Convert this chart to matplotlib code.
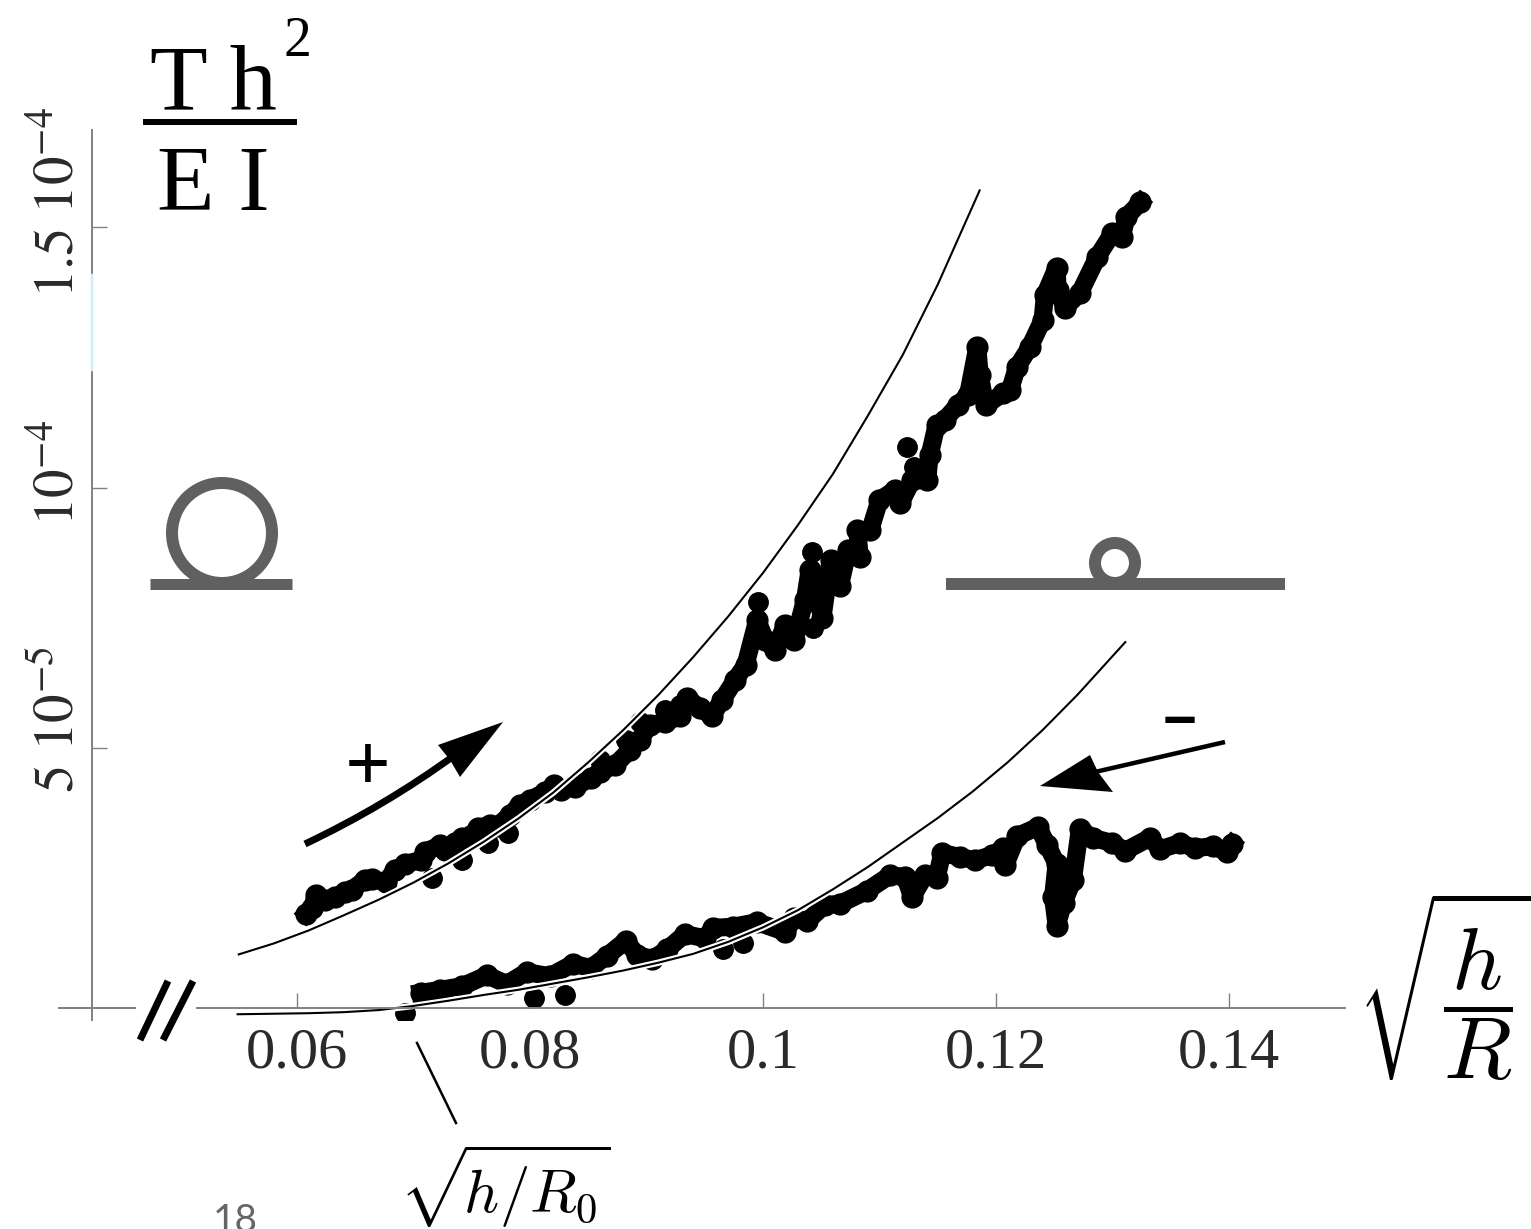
import matplotlib
matplotlib.use("Agg")
import matplotlib.pyplot as plt
import matplotlib.patheffects as pe
from matplotlib.patches import Circle, PathPatch, Polygon
from matplotlib.path import Path

# y values are in units of 1e-5
up_x = [.0608, .0613, .0616, .0624, .0633, .0641, .0647, .0658, .0664, .0676, .0684, .0693, .0706, .0710,
        .0723, .0727, .0736, .0742, .0750, .0755, .0766, .0772, .0783, .0791, .0800, .0813, .0821, .0827,
        .0839, .0852, .0860, .0873, .0886, .0894, .0903, .0916, .0929, .0935, .0946, .0956, .0965, .0976,
        .0985, .0995, .1002, .1010, .1019, .1027, .1036, .1040, .1051, .1058, .1066, .1073, .1083, .1081,
        .1092, .1100, .1113, .1118, .1128, .1141, .1143, .1149, .1156, .1167, .1176, .1184, .1186, .1191,
        .1206, .1212, .1218, .1229, .1240, .1242, .1252, .1253, .1259, .1272, .1287, .1300, .1308, .1312, .1324]
up_y = [1.81, 1.92, 2.17, 2.07, 2.13, 2.23, 2.27, 2.46, 2.48, 2.42, 2.65, 2.77, 2.84, 3.00,
        3.13, 3.04, 3.17, 3.27, 3.32, 3.46, 3.52, 3.50, 3.71, 3.90, 4.00, 4.15, 4.28, 4.19,
        4.25, 4.42, 4.53, 4.67, 4.96, 5.15, 5.44, 5.49, 5.61, 5.96, 5.76, 5.61, 5.92, 6.30,
        6.59, 7.45, 7.07, 6.88, 7.36, 7.07, 7.84, 8.41, 7.49, 8.61, 8.11, 8.80, 8.66, 9.18,
        9.18, 9.76, 9.95, 9.70, 10.14, 10.14, 10.62, 11.20, 11.30, 11.58, 11.78, 12.70, 12.16, 11.58,
        11.81, 11.87, 12.31, 12.70, 13.22, 13.70, 14.22, 13.79, 13.45, 13.74, 14.43, 14.89, 14.81, 15.20, 15.48]
up_out_x = [.0996, .1124, .1042, .0716, .0742, .0764, .0781, .0860, .0882, .0894, .0916, .0929, .1043, .1050, .1118, .1130]
up_out_y = [7.80, 10.78, 8.76, 2.50, 2.84, 3.17, 3.36, 4.76, 5.15, 5.49, 5.72, 5.82, 7.30, 8.00, 9.90, 10.40]

low_x = [.0706, .0723, .0742, .0763, .0780, .0797, .0817, .0837, .0852, .0866, .0882, .0892, .0905, .0918,
         .0933, .0950, .0957, .0974, .0995, .1019, .1027, .1038, .1053, .1066, .1089, .1109, .1122, .1128,
         .1139, .1149, .1154, .1169, .1182, .1197, .1206, .1208, .1218, .1236, .1244, .1252, .1249, .1252,
         .1258, .1266, .1272, .1283, .1300, .1311, .1332, .1341, .1358, .1371, .1386, .1398, .1403]
low_y = [0.29, 0.35, 0.42, 0.63, 0.46, 0.69, 0.61, 0.85, 0.77, 1.00, 1.29, 1.02, 0.94, 1.13,
         1.42, 1.34, 1.54, 1.56, 1.65, 1.46, 1.73, 1.67, 1.98, 2.00, 2.25, 2.55, 2.52, 2.13,
         2.55, 2.50, 2.98, 2.90, 2.84, 2.94, 3.07, 2.75, 3.30, 3.48, 3.13, 2.77, 2.13, 1.58,
         2.02, 2.46, 3.44, 3.27, 3.17, 3.02, 3.27, 3.05, 3.17, 3.07, 3.11, 3.00, 3.15]
low_out_x = [.0693, .0803, .0830, .0966, .0983]
low_out_y = [-0.10, 0.19, 0.25, 1.13, 1.25]

theory_up_x = [.055, .058, .061, .064, .067, .070, .073, .076, .079, .082, .085, .088, .091, .094, .097,
               .100, .103, .106, .109, .112, .115, .1186]
theory_up_y = [1.03, 1.24, 1.49, 1.78, 2.08, 2.41, 2.78, 3.19, 3.64, 4.14, 4.72, 5.34, 6.01, 6.74, 7.52,
               8.36, 9.28, 10.26, 11.38, 12.55, 13.90, 15.71]
theory_low_x = [.0549, .058, .061, .064, .067, .070, .073, .076, .079, .082, .085, .088, .091, .094, .097,
                .100, .103, .106, .109, .112, .115, .118, .121, .124, .127, .1311]
theory_low_y = [-0.12, -0.11, -0.10, -0.08, -0.04, 0.04, 0.14, 0.25, 0.35, 0.47, 0.59, 0.72, 0.87, 1.04, 1.27,
                1.55, 1.88, 2.28, 2.71, 3.18, 3.65, 4.16, 4.72, 5.34, 6.02, 7.03]

x_ticks = [.06, .08, .1, .12, .14]
x_labels = ["0.06", "0.08", "0.1", "0.12", "0.14"]
y_ticks = [5, 10, 15]
y_labels = [r"$5\ 10^{-5}$", r"$10^{-4}$", r"$1.5\ 10^{-4}$"]

W, H = 1531, 1229
GRAY = "#808080"
ICON = "#606060"
SERIF = "Liberation Serif"

fig = plt.figure(figsize=(W / 100, H / 100), dpi=100)
ax = fig.add_axes([92 / W, 1 - 1020 / H, (1345 - 92) / W, (1020 - 130) / H])
ax.set_xlim(.0424, .14996)
ax.set_ylim(-0.2305, 16.87)

for s in ["top", "right"]:
    ax.spines[s].set_visible(False)
ax.spines["bottom"].set_position(("data", 0))
ax.spines["bottom"].set_bounds(.0514, .14996)
for s in ["left", "bottom"]:
    ax.spines[s].set_color(GRAY)
    ax.spines[s].set_linewidth(1.4)

ax.set_xticks(x_ticks)
ax.set_xticklabels(x_labels, family=SERIF, fontsize=42, color="#2a2a2a")
ax.set_yticks(y_ticks)
ax.set_yticklabels([])
ax.tick_params(axis="both", direction="in", length=11, width=1.0, color=GRAY)
ax.tick_params(axis="x", pad=14)

# data: thick blobs of points
for xs, ys in [(up_x, up_y), (low_x, low_y)]:
    ax.plot(xs, ys, "-o", color="black", ms=15, lw=13, solid_joinstyle="round")
ax.plot(up_out_x, up_out_y, "o", color="black", ms=14, ls="none")
ax.plot(low_out_x, low_out_y, "o", color="black", ms=14, ls="none")

# theory curves with a white halo
halo = [pe.withStroke(linewidth=4.6, foreground="white")]
for xs, ys in [(theory_up_x, theory_up_y), (theory_low_x, theory_low_y)]:
    ax.plot(xs, ys, color="black", lw=1.5, path_effects=halo, solid_joinstyle="round")

# rotated y labels, offset from their ticks as in the original
offs = [28, 15, 25]
for v, lab, dy in zip(y_ticks, y_labels, offs):
    ax.annotate(lab, (0, v), xycoords=ax.get_yaxis_transform(), xytext=(-35, dy),
                textcoords="offset pixels", rotation=90, ha="center", va="center",
                fontsize=41, color="#2a2a2a", math_fontfamily="stix")

# overlay in pixel units for the hand drawn bits
ov = fig.add_axes([0, 0, 1, 1], facecolor="none")
ov.set_xlim(0, W)
ov.set_ylim(H, 0)
ov.axis("off")


def seg(xs, ys, lw, color="black", **kw):
    ov.plot(xs, ys, color=color, lw=lw * 0.72, **kw)


seg([59, 135], [1008, 1008], 2, GRAY)
seg([92, 92], [275, 370], 2.5, "#cdeff5")
seg([140, 168], [1040, 981], 7, solid_capstyle="butt")
seg([163, 193], [1040, 981], 7, solid_capstyle="butt")
seg([417, 456], [1043, 1123], 2.5)

# fraction top left
ov.text(150, 110, "T h", family=SERIF, fontsize=68, color="black", ha="left", va="baseline")
ov.text(283, 56, "2", family=SERIF, fontsize=40, color="black", ha="left", va="baseline")
seg([143, 297], [122, 122], 6, solid_capstyle="butt")
ov.text(157, 210, "E I", family=SERIF, fontsize=68, color="black", ha="left", va="baseline")

# loop icons
ov.add_patch(Circle((222, 533), 50, fill=False, ec=ICON, lw=12 * 0.72))
seg([150, 292], [584, 584], 11, ICON, solid_capstyle="butt")
ov.add_patch(Circle((1115, 563), 20, fill=False, ec=ICON, lw=12 * 0.72))
seg([946, 1285], [584, 584], 12, ICON, solid_capstyle="butt")

# arrows
ov.add_patch(PathPatch(Path([(305, 844), (385, 806), (455, 755)], [Path.MOVETO, Path.CURVE3, Path.CURVE3]),
                       fill=False, ec="black", lw=7 * 0.72, capstyle="butt"))
ov.add_patch(Polygon([(503, 722), (438, 745), (450, 760), (460, 777)], fc="black", ec="none"))
seg([1225, 1095], [742, 772], 4.5, solid_capstyle="butt")
ov.add_patch(Polygon([(1040, 786), (1090, 755), (1098, 772), (1113, 792)], fc="black", ec="none"))
ov.text(368, 770, "+", family=SERIF, fontweight="bold", fontsize=58, color="black", ha="center", va="center")
ov.text(1180, 724, "\u2212", family="Liberation Sans", fontweight="bold", fontsize=42, color="black", ha="center", va="center")

# axis names in computer modern
ov.text(1446, 986, r"$\sqrt{\dfrac{h}{R}}$", fontsize=64, math_fontfamily="cm", ha="center", va="center", color="black")
ov.text(505, 1186, r"$\sqrt{\!h/R_0}$", fontsize=44, math_fontfamily="cm", ha="center", va="center", color="black")
ov.text(235, 1232, "18", family="Lato", fontsize=28, color="#666666", ha="center", va="baseline", clip_on=False)

fig.savefig("out.png", dpi=100, facecolor="white")
